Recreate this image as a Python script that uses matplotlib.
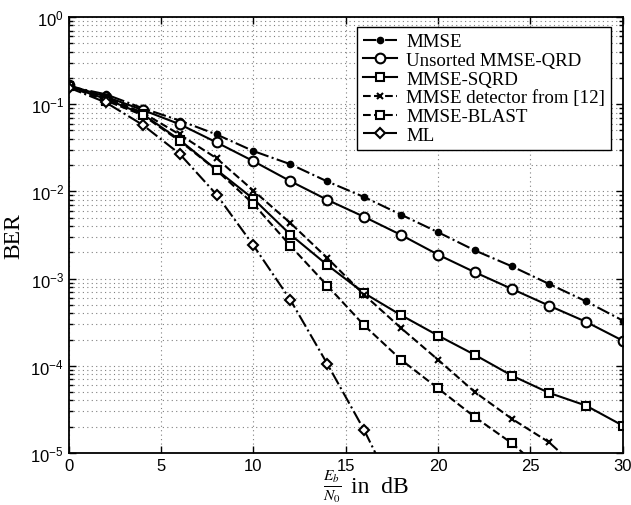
#! /usr/bin/env python

# Plotting
import matplotlib
matplotlib.use('Agg')
import matplotlib.pyplot as plt
from matplotlib.ticker import LogLocator, NullFormatter, MultipleLocator

# Eb/N0 grid in dB
snr_db = [0, 2, 4, 6, 8, 10, 12, 14, 16, 18, 20, 22, 24, 26, 28, 30]

# BER values
ber_mmse = [0.16, 0.13, 0.09, 0.065, 0.045, 0.029, 0.0205, 0.013, 0.0086,
            0.0054, 0.0034, 0.0021, 0.00138, 0.00087, 0.00055, 0.00033]
ber_unsorted = [0.165, 0.122, 0.086, 0.059, 0.0365, 0.0222, 0.0131, 0.0080,
                0.0051, 0.00316, 0.00188, 0.00118, 0.00076, 0.00049,
                0.00032, 0.000194]
ber_sqrd = [0.16, 0.115, 0.077, 0.039, 0.0177, 0.0082, 0.0032, 0.00143,
            0.00068, 0.00038, 0.000222, 0.000133, 7.7e-5, 4.9e-5, 3.5e-5,
            2.06e-5]
snr_det = [0, 2, 4, 6, 8, 10, 12, 14, 16, 18, 20, 22, 24, 26, 28]
ber_det = [0.16, 0.12, 0.08, 0.045, 0.024, 0.0102, 0.00434, 0.00172,
           0.00065, 0.00027, 0.000117, 4.97e-5, 2.46e-5, 1.33e-5, 5.5e-6]
snr_blast = [0, 2, 4, 6, 8, 10, 12, 14, 16, 18, 20, 22, 24, 26]
ber_blast = [0.16, 0.11, 0.075, 0.038, 0.0175, 0.00717, 0.00238, 0.00083,
             0.00029, 0.000117, 5.5e-5, 2.57e-5, 1.29e-5, 5.5e-6]
snr_ml = [0, 2, 4, 6, 8, 10, 12, 14, 16, 18]
ber_ml = [0.155, 0.105, 0.058, 0.027, 0.0092, 0.0024, 0.00057, 0.000105,
          1.82e-5, 2.5e-6]

# Fonts: Times-like text, Helvetica-like ticks
plt.rcParams['font.family'] = ['Liberation Sans', 'DejaVu Sans']
plt.rcParams['mathtext.fontset'] = 'custom'
plt.rcParams['mathtext.rm'] = 'Liberation Sans'
plt.rcParams['mathtext.it'] = 'Liberation Sans:italic'
serif = ['Liberation Serif', 'DejaVu Serif']

fig = plt.figure(figsize=(6.31, 5.06), dpi=100)
ax = fig.add_axes([0.109, 0.1028, 0.878, 0.8616])

lw = 1.5
ax.plot(snr_db, ber_mmse, color='black', linestyle='-.', lw=lw,
        marker='o', markersize=4.5, markerfacecolor='black', label='MMSE')
ax.plot(snr_db, ber_unsorted, color='black', linestyle='-', lw=lw,
        marker='o', markersize=7, markerfacecolor='white', markeredgewidth=1.5,
        label='Unsorted MMSE-QRD')
ax.plot(snr_db, ber_sqrd, color='black', linestyle='-', lw=lw,
        marker='s', markersize=6, markerfacecolor='white', markeredgewidth=1.5,
        label='MMSE-SQRD')
ax.plot(snr_det, ber_det, color='black', linestyle='--', lw=lw,
        marker='x', markersize=5, markeredgewidth=1.5,
        label='MMSE detector from [12]')
ax.plot(snr_blast, ber_blast, color='black', linestyle='--', lw=lw,
        marker='s', markersize=5.5, markerfacecolor='white', markeredgewidth=1.5,
        label='MMSE-BLAST')
ax.plot(snr_ml, ber_ml, color='black', linestyle='-.', lw=lw,
        marker='D', markersize=5.5, markerfacecolor='white', markeredgewidth=1.5,
        label='ML')

# Axis limits and scales
ax.set_yscale('log')
ax.set_xlim(0, 30)
ax.set_ylim(1e-5, 1)
ax.xaxis.set_major_locator(MultipleLocator(5))
ax.yaxis.set_major_locator(LogLocator(base=10, numticks=10))
ax.yaxis.set_minor_locator(LogLocator(base=10, subs=range(2, 10), numticks=10))
ax.yaxis.set_minor_formatter(NullFormatter())

# MATLAB-like box, inward ticks
ax.tick_params(which='both', direction='in', top=True, right=True,
               labelsize=12, width=1)
ax.tick_params(which='major', length=5)
ax.tick_params(which='minor', length=3)
for sp in ax.spines.values():
    sp.set_linewidth(1.3)

# Dotted grid
grid_kw = dict(linestyle=(0, (1, 3)), color='0.5', lw=0.8)
ax.grid(True, which='major', **grid_kw)
ax.grid(True, which='minor', axis='y', **grid_kw)

# Labels (x label built from a fraction plus plain text)
ax.set_ylabel('BER', family=serif, fontsize=17, labelpad=4)
fig.text(0.527, 0.037, r'$\frac{E_b}{N_0}$', fontsize=16,
         math_fontfamily='stix', ha='center', va='center')
fig.text(0.556, 0.0257, 'in  dB', family=serif, fontsize=17,
         ha='left', va='baseline')

# Legend
leg = ax.legend(loc='upper right', bbox_to_anchor=(0.985, 0.985),
                prop={'family': serif, 'size': 13.6}, frameon=True,
                fancybox=False, edgecolor='black', framealpha=1,
                borderpad=0.3, labelspacing=0.08, handlelength=1.8,
                handletextpad=0.5, borderaxespad=0.2)
leg.get_frame().set_linewidth(1.0)

fig.savefig('out.png', dpi=100)
